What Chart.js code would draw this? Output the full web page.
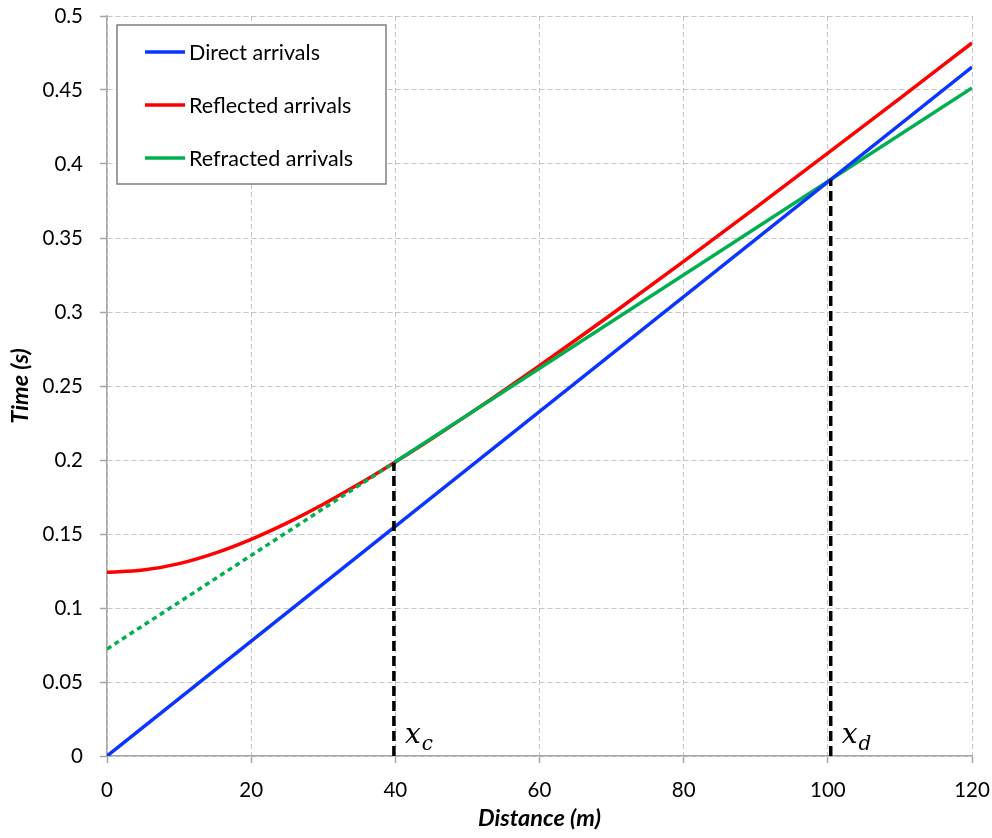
<!DOCTYPE html>
<html>
<head>
<meta charset="utf-8">
<script src="https://cdn.jsdelivr.net/npm/chart.js@4/dist/chart.umd.min.js"></script>
<style>
  html, body { margin: 0; padding: 0; background: #ffffff; }
  #wrap { width: 992px; height: 838px; }
</style>
</head>
<body>
<div id="wrap"><canvas id="c" width="992" height="838"></canvas></div>
<script>
// Travel-time curves for a two-layer seismic refraction model.
const directX = [0, 120];
const directT = [0, 0.4655];

const reflectedX = [0, 5, 10, 15, 20, 25, 30, 35, 40, 45, 50, 60, 70, 80, 90, 100, 110, 120];
const reflectedT = [0.1241, 0.1256, 0.1300, 0.1371, 0.1464, 0.1575, 0.1701, 0.1839, 0.1987,
                    0.2142, 0.2303, 0.2638, 0.2985, 0.3342, 0.3705, 0.4073, 0.4444, 0.4818];

// Head wave: observed beyond the critical distance, projected back to the intercept time.
const refractedX = [39.8, 120];
const refractedT = [0.1981, 0.4514];
const refractedBackX = [0, 39.8];
const refractedBackT = [0.0723, 0.1981];

// Critical distance (x_c) and crossover distance (x_d)
const markerX = [39.8, 100.4];
const markerT = [0.1981, 0.3895];
const markerNames = ['x', 'x'];
const markerSubs = ['c', 'd'];

const seriesNames = ['Direct arrivals', 'Reflected arrivals', 'Refracted arrivals'];
const seriesColors = ['#0a35ff', '#ff0000', '#00b050'];

const xTicks = [0, 20, 40, 60, 80, 100, 120];
const yTicks = [0, 0.05, 0.1, 0.15, 0.2, 0.25, 0.3, 0.35, 0.4, 0.45, 0.5];
const yTickLabels = ['0', '0.05', '0.1', '0.15', '0.2', '0.25', '0.3', '0.35', '0.4', '0.45', '0.5'];

const pts = (xs, ys) => xs.map((x, i) => ({ x: x, y: ys[i] }));

const FONT = 'Lato, "Liberation Sans", sans-serif';
const GRID = '#c6c6c6';
const AXIS = '#a6a6a6';

const datasets = [
  {
    label: seriesNames[0], data: pts(directX, directT),
    borderColor: seriesColors[0], borderWidth: 3.5, order: 1
  },
  {
    label: seriesNames[1], data: pts(reflectedX, reflectedT),
    borderColor: seriesColors[1], borderWidth: 3.5, order: 3,
    cubicInterpolationMode: 'monotone'
  },
  {
    label: seriesNames[2], data: pts(refractedX, refractedT),
    borderColor: seriesColors[2], borderWidth: 3.5, order: 2
  },
  {
    label: 'intercept', data: pts(refractedBackX, refractedBackT),
    borderColor: seriesColors[2], borderWidth: 3.5, borderDash: [5, 4], order: 2
  }
];
markerX.forEach((x, i) => {
  datasets.push({
    label: 'marker' + i, data: [{ x: x, y: 0 }, { x: x, y: markerT[i] }],
    borderColor: '#000000', borderWidth: 3.5, borderDash: [10, 5], order: 0
  });
});
datasets.forEach(d => { d.pointRadius = 0; d.fill = false; d.borderCapStyle = 'butt'; });

// Boxed legend in the upper-left corner of the plot area
const boxLegend = {
  id: 'boxLegend',
  afterDraw(chart) {
    const ctx = chart.ctx, a = chart.chartArea;
    const bx = a.left + 10, by = a.top + 9, bw = 269, bh = 159;
    ctx.save();
    ctx.fillStyle = '#ffffff';
    ctx.fillRect(bx, by, bw, bh);
    ctx.strokeStyle = '#7f7f7f';
    ctx.lineWidth = 1.5;
    ctx.strokeRect(bx, by, bw, bh);
    ctx.font = '21.5px ' + FONT;
    ctx.textBaseline = 'middle';
    ctx.fillStyle = '#000000';
    seriesNames.forEach((name, i) => {
      const ly = by + 27 + i * 53;
      ctx.strokeStyle = seriesColors[i];
      ctx.lineWidth = 3.5;
      ctx.beginPath();
      ctx.moveTo(bx + 28, ly);
      ctx.lineTo(bx + 68, ly);
      ctx.stroke();
      ctx.fillText(name, bx + 72, ly + 1);
    });
    ctx.restore();
  }
};

// Italic x_c / x_d labels beside the dashed distance markers
const markerLabels = {
  id: 'markerLabels',
  afterDatasetsDraw(chart) {
    const ctx = chart.ctx, xs = chart.scales.x, ys = chart.scales.y;
    ctx.save();
    ctx.fillStyle = '#000000';
    ctx.textBaseline = 'alphabetic';
    markerX.forEach((x, i) => {
      const px = xs.getPixelForValue(x) + 11;
      const py = ys.getPixelForValue(0) - 13;
      ctx.font = 'italic 28px "DejaVu Serif", "Liberation Serif", serif';
      ctx.fillText(markerNames[i], px, py);
      const w = ctx.measureText(markerNames[i]).width;
      ctx.font = 'italic 20px "DejaVu Serif", "Liberation Serif", serif';
      ctx.fillText(markerSubs[i], px + w + 1, py + 7);
    });
    ctx.restore();
  }
};

new Chart(document.getElementById('c'), {
  type: 'line',
  data: { datasets: datasets },
  plugins: [markerLabels, boxLegend],
  options: {
    responsive: false,
    devicePixelRatio: 1,
    animation: false,
    layout: { padding: { top: 16, right: 20, left: 0, bottom: 0 } },
    plugins: { legend: { display: false }, tooltip: { enabled: false } },
    scales: {
      x: {
        type: 'linear', min: 0, max: 120,
        afterBuildTicks: s => { s.ticks = xTicks.map(v => ({ value: v })); },
        afterFit: s => { s.height = 82; s.paddingLeft = 0; s.paddingRight = 0; },
        ticks: { font: { family: FONT, size: 20.5 }, color: '#000000', padding: 15, maxRotation: 0,
                 callback: v => String(v) },
        grid: { color: GRID, lineWidth: 1, tickColor: AXIS, tickLength: 7, tickWidth: 1.5 },
        border: { display: true, color: AXIS, width: 1.5, dash: [5, 3] },
        title: { display: true, text: 'Distance (m)', color: '#000000',
                 font: { family: FONT, size: 23.5, weight: 'bold', style: 'italic' },
                 padding: { top: 0, bottom: 5 } }
      },
      y: {
        type: 'linear', min: 0, max: 0.5,
        afterBuildTicks: s => { s.ticks = yTicks.map(v => ({ value: v })); },
        afterFit: s => { s.width = 107; s.paddingTop = 0; s.paddingBottom = 0; },
        ticks: { font: { family: FONT, size: 20.5 }, color: '#000000', padding: 17,
                 callback: (v, i) => yTickLabels[i] },
        grid: { color: GRID, lineWidth: 1, tickColor: AXIS, tickLength: 7, tickWidth: 1.5 },
        border: { display: true, color: AXIS, width: 1.5, dash: [5, 3] },
        title: { display: true, text: 'Time (s)', color: '#000000',
                 font: { family: FONT, size: 23.5, weight: 'bold', style: 'italic' },
                 padding: { top: 6, bottom: 0 } }
      }
    }
  }
});
</script>
</body>
</html>
